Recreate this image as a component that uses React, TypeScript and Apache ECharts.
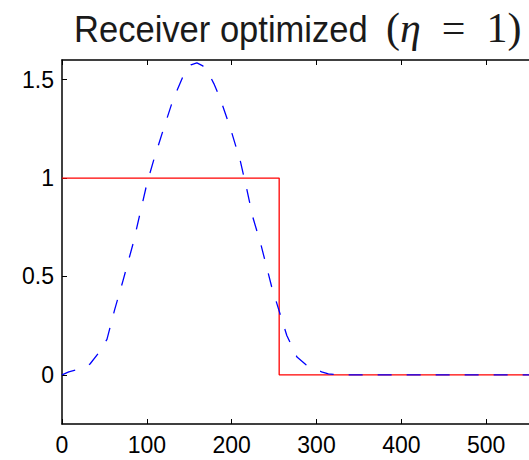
import React, { useEffect, useRef } from "react";
import * as echarts from "echarts";

const titleText = "Receiver optimized";
const titleEta = "η";
const titleValue = "1";

const xTickLabels = [0, 100, 200, 300, 400, 500];
const yTickValues = [0, 0.5, 1, 1.5];

const stepX = [0, 256, 256, 600];
const stepY = [1, 1, 0, 0];

const curveX = [0, 8, 17, 25, 33, 43, 53, 62, 72, 84, 92, 100, 108, 119, 131, 145, 152, 159, 166, 172, 179, 186, 198, 210, 218, 225, 234, 247, 257, 265, 277, 288, 298, 306, 314, 322, 330, 600];
const curveY = [0, 0.015, 0.025, 0.035, 0.055, 0.11, 0.18, 0.33, 0.48, 0.67, 0.82, 0.97, 1.09, 1.24, 1.40, 1.54, 1.575, 1.585, 1.57, 1.54, 1.48, 1.41, 1.26, 1.09, 0.94, 0.80, 0.67, 0.45, 0.31, 0.20, 0.09, 0.05, 0.03, 0.015, 0.005, 0.001, 0, 0];

export default function App() {
  const ref = useRef<HTMLDivElement>(null);
  useEffect(() => {
    const chart = echarts.init(ref.current!, undefined, { renderer: "svg" });
    const axisFont = { fontFamily: "Liberation Sans", fontSize: 23, color: "#000" };
    const tc = "#1a1a1a";
    chart.setOption({
      animation: false,
      backgroundColor: "#fff",
      graphic: [
        {
          type: "text",
          x: 74,
          y: 29,
          scaleX: 0.96,
          z: 10,
          style: {
            text: titleText,
            fontFamily: "Liberation Sans",
            fontSize: 36,
            fill: tc,
            align: "left",
            verticalAlign: "middle",
          },
        },
        {
          type: "text",
          x: 386,
          y: 27.5,
          z: 10,
          style: {
            text: "{m|(}{i|" + titleEta + "}{m|\u2002=\u2002" + titleValue + ")}",
            fontFamily: "Liberation Serif",
            fontSize: 42,
            fill: tc,
            align: "left",
            verticalAlign: "middle",
            rich: {
              m: { fontFamily: "Liberation Serif", fontSize: 42, fill: tc, color: tc },
              i: { fontFamily: "Liberation Serif", fontStyle: "italic", fontSize: 42, fill: tc, color: tc },
            },
          },
        },
      ],
      grid: { left: 62, top: 60, bottom: 36, right: -42, outerBoundsMode: "none", containLabel: false },
      xAxis: [
        {
          type: "value",
          min: 0,
          max: 600,
          interval: 100,
          position: "bottom",
          axisLine: { show: true, onZero: false, lineStyle: { color: "#000", width: 1.5 } },
          axisTick: { show: true, inside: true, length: 5, lineStyle: { color: "#000", width: 1 } },
          axisLabel: {
            ...axisFont,
            margin: 9,
            formatter: (v: number) => (xTickLabels.includes(v) ? String(v) : ""),
          },
          splitLine: { show: false },
        },
        {
          type: "value",
          min: 0,
          max: 600,
          interval: 100,
          position: "top",
          axisLine: { show: true, onZero: false, lineStyle: { color: "#000", width: 1.5 } },
          axisTick: { show: true, inside: true, length: 5, lineStyle: { color: "#000", width: 1 } },
          axisLabel: { show: false },
          splitLine: { show: false },
        },
      ],
      yAxis: {
        type: "value",
        min: -0.25,
        max: 1.6,
        axisLine: { show: true, onZero: false, lineStyle: { color: "#000", width: 1.5 } },
        axisTick: { show: true, inside: true, length: 5, customValues: yTickValues, lineStyle: { color: "#000", width: 1 } },
        axisLabel: { ...axisFont, margin: 8, customValues: yTickValues, formatter: (v: number) => String(v) },
        splitLine: { show: false },
      },
      series: [
        {
          type: "line",
          data: stepX.map((x, i) => [x, stepY[i]]),
          showSymbol: false,
          lineStyle: { color: "#ff0000", width: 1.3 },
          z: 2,
        },
        {
          type: "line",
          data: curveX.map((x, i) => [x, curveY[i]]),
          showSymbol: false,
          lineStyle: { color: "#0000ff", width: 1.3, type: [14, 15] },
          z: 3,
        },
      ],
    });
    return () => chart.dispose();
  }, []);
  return <div ref={ref} style={{ position: "fixed", left: 0, top: 0, width: 529, height: 460 }} />;
}
